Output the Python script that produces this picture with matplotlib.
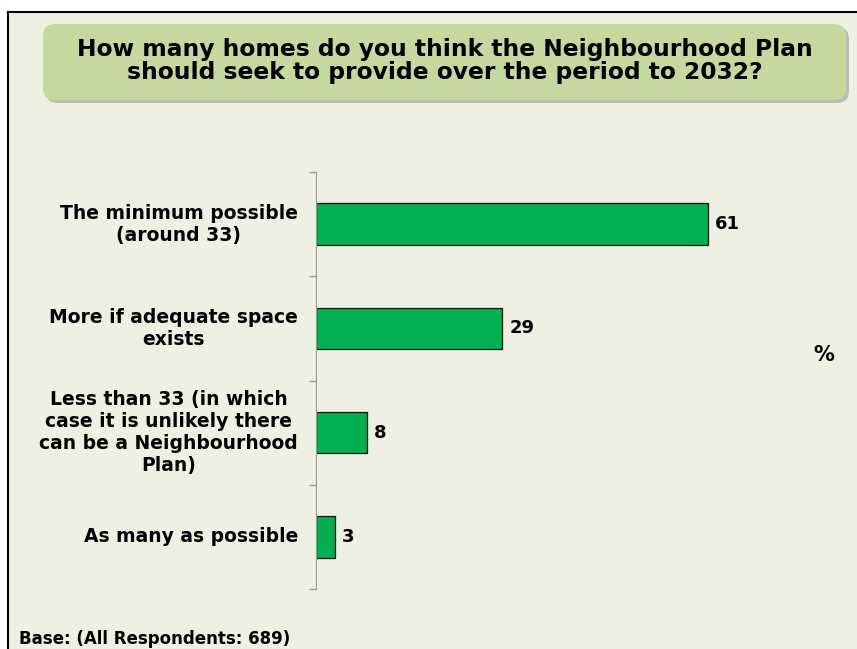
import matplotlib.pyplot as plt
from matplotlib.patches import FancyBboxPatch, Rectangle

categories = [
    'The minimum possible\n(around 33)',
    'More if adequate space\nexists',
    'Less than 33 (in which\ncase it is unlikely there\ncan be a Neighbourhood\nPlan)',
    'As many as possible',
]
values = [61, 29, 8, 3]

title = ('How many homes do you think the Neighbourhood Plan\n'
         'should seek to provide over the period to 2032?')
base_note = 'Base: (All Respondents: 689)'

W, H = 857, 649
bg = '#EEF1E1'
bar_color = '#00AF50'

plt.rcParams['font.family'] = ['DejaVu Sans']
fig = plt.figure(figsize=(W / 100, H / 100), dpi=100)
fig.patch.set_facecolor('white')

# panel with black top/left border running off the page
fig.patches.append(Rectangle((8 / W, 0), 1.0, 1 - 12 / H, transform=fig.transFigure,
                             facecolor=bg, edgecolor='none', zorder=0))
fig.add_artist(plt.Line2D([8 / W, 8 / W], [0, 1 - 12 / H], color='black', lw=1.5,
                          transform=fig.transFigure))
fig.add_artist(plt.Line2D([8 / W, 1], [1 - 12 / H, 1 - 12 / H], color='black', lw=1.5,
                          transform=fig.transFigure))

# title box with shadow
bx0, bx1, by0, by1 = 43, 846, 24, 100
for dx, dy, fc, al in [(3, 3, '#7f7f7f', 0.45), (0, 0, '#C5D89D', 1.0)]:
    fig.patches.append(FancyBboxPatch(((bx0 + dx) / W, 1 - (by1 + dy) / H),
                                      (bx1 - bx0) / W, (by1 - by0) / H,
                                      boxstyle='round,pad=0,rounding_size=0.014',
                                      transform=fig.transFigure, facecolor=fc,
                                      edgecolor='none', alpha=al, zorder=1,
                                      mutation_aspect=W / H))
fig.text((bx0 + bx1) / 2 / W, 1 - 61 / H, title, ha='center', va='center',
         fontsize=16.8, fontweight='bold', linespacing=1.05, zorder=2)

# bar axes: spine at x=316, from y=172 to 589
ax_left, ax_right = 316, 830
ax_top, ax_bot = 172, 589
ax = fig.add_axes([ax_left / W, 1 - ax_bot / H, (ax_right - ax_left) / W, (ax_bot - ax_top) / H])
ax.set_zorder(3)
ax.set_facecolor('none')
ypos = list(range(len(values)))
ax.barh(ypos, values, height=0.4, color=bar_color, edgecolor='#111111', linewidth=0.9)
ax.set_ylim(len(values) - 0.5, -0.5)
ax.set_xlim(0, (ax_right - ax_left) / (392 / 61))

for y, v in zip(ypos, values):
    ax.annotate(str(v), (v, y), xytext=(5, 0), textcoords='offset points',
                ha='left', va='center', fontsize=13, fontweight='bold')

for y, lab in zip(ypos, categories):
    ax.annotate(lab, (0, y), xytext=(-13, 0), textcoords='offset points',
                ha='right', va='center', multialignment='center',
                fontsize=13.5, fontweight='bold', linespacing=1.2)

ax.set_yticks([i - 0.5 for i in range(len(values) + 1)])
ax.set_yticklabels([])
ax.tick_params(axis='y', length=5, color='#999999', width=1)
ax.set_xticks([])
for s in ['top', 'right', 'bottom']:
    ax.spines[s].set_visible(False)
ax.spines['left'].set_color('#999999')

fig.text(824 / W, 1 - 355 / H, '%', ha='center', va='center', fontsize=15, fontweight='bold')
fig.text(19 / W, 1 - 639 / H, base_note, ha='left', va='center', fontsize=12, fontweight='bold')

fig.savefig('out.png', dpi=100, facecolor=fig.get_facecolor())
